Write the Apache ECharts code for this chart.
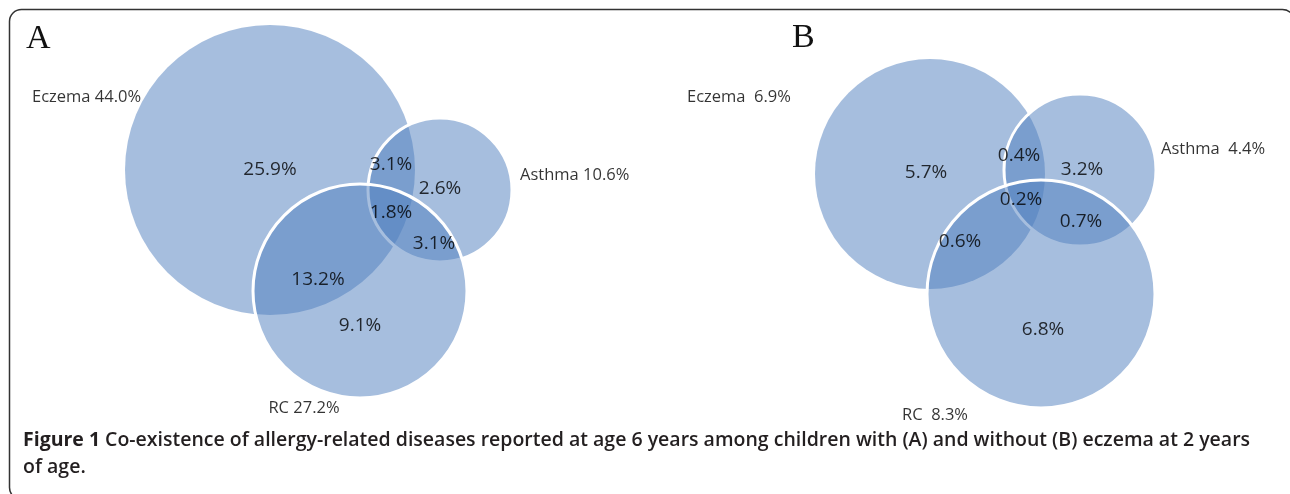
<!DOCTYPE html>
<html>
<head>
<meta charset="utf-8">
<style>
    html, body {margin:0;padding:0;background:#ffffff;}
    #venn {width:1290px;height:494px;}
</style>
</head>
<body>
<div id="venn"></div>
<script src="https://cdn.jsdelivr.net/npm/echarts@6/dist/echarts.min.js"></script>
<script>
    // sets and their totals (%) - A: eczema at 2 years, B: no eczema at 2 years
    var sets = ['Eczema', 'Asthma', 'RC'];
    var totalsA = [44.0, 10.6, 27.2];
    var totalsB = [6.9, 4.4, 8.3];
    // region shares (%): E only, E+A, A only, E+A+RC, A+RC, E+RC, RC only
    var regionsA = [25.9, 3.1, 2.6, 1.8, 3.1, 13.2, 9.1];
    var regionsB = [5.7, 0.4, 3.2, 0.2, 0.7, 0.6, 6.8];

    // layout, in plot units (the axes span the whole page)
    var circlesA = [[270, 170, 145], [440, 190, 72], [360, 291, 107]];
    var circlesB = [[930, 174, 115], [1080, 170, 76], [1041, 294, 114]];
    var regionPosA = [[270, 170], [391, 165], [440, 189], [391, 213], [434, 244], [318, 280], [360, 326]];
    var regionPosB = [[926, 173], [1019, 156], [1082, 170], [1021, 200], [1081, 222], [960, 242], [1043, 330]];
    var setPosA = [[32, 97, 'right'], [520, 175, 'right'], [304, 408, 'inside']];
    var setPosB = [[687, 97, 'right'], [1161, 149, 'right'], [935, 415, 'inside']];

    var captionBold = 'Figure 1';
    var captionText = 'Co-existence of allergy-related diseases reported at age 6 years among children with (A) and without (B) eczema at 2 years';
    var captionText2 = 'of age.';

    var textColor = '#000000';
    var fontName = 'Open Sans';

    function circleSeries(name, circles) {
        return {
            type: 'custom',
            name: name,
            silent: true,
            z: 1,
            data: circles.map(function (c, i) { return [c[0], c[1], c[2], i]; }),
            renderItem: function (params, api) {
                var p = api.coord([api.value(0), api.value(1)]);
                var r = api.size([api.value(2), 0])[0];
                var outline = api.value(3) > 0;
                return {
                    type: 'circle',
                    shape: {cx: p[0], cy: p[1], r: r},
                    style: {
                        fill: 'rgba(77,125,189,0.5)',
                        stroke: outline ? '#ffffff' : null,
                        lineWidth: outline ? 3 : 0
                    }
                };
            }
        };
    }

    function labelSeries(points, texts, size) {
        return {
            type: 'scatter',
            silent: true,
            z: 5,
            symbolSize: 0,
            data: points.map(function (p, i) {
                return {
                    value: [p[0], p[1]],
                    label: {formatter: texts[i], position: p[2] || 'inside'}
                };
            }),
            label: {show: true, distance: 0, color: textColor, fontFamily: fontName, fontSize: size}
        };
    }

    function pct(v) { return v.toFixed(1) + '%'; }

    var setTextA = sets.map(function (s, i) { return s + ' ' + pct(totalsA[i]); });
    var setTextB = sets.map(function (s, i) { return s + '  ' + pct(totalsB[i]); });

    var chart = echarts.init(document.getElementById('venn'));
    var option = {
        animation: false,
        backgroundColor: '#ffffff',
        title: [
            {text: 'A', left: 26, top: 22, padding: 0,
                textStyle: {fontFamily: 'Liberation Serif', fontWeight: 'normal', fontSize: 34, lineHeight: 34, color: '#111'}},
            {text: 'B', left: 792, top: 21, padding: 0,
                textStyle: {fontFamily: 'Liberation Serif', fontWeight: 'normal', fontSize: 34, lineHeight: 34, color: '#111'}},
            {
                text: '{b|' + captionBold + '} {r|' + captionText + '}\n{r|' + captionText2 + '}',
                left: 23, top: 427, padding: 0,
                textStyle: {
                    rich: {
                        b: {fontFamily: fontName, fontWeight: 'bold', fontSize: 19.5, lineHeight: 27, color: '#231f20'},
                        r: {fontFamily: fontName, fontWeight: 600, fontSize: 19.5, lineHeight: 27, color: '#231f20'}
                    }
                }
            }
        ],
        grid: {left: 0, right: 0, top: 0, bottom: 0},
        xAxis: {type: 'value', min: 0, max: 1290, show: false},
        yAxis: {type: 'value', min: 0, max: 494, inverse: true, show: false},
        graphic: [{
            type: 'rect',
            shape: {x: 9.5, y: 9.5, width: 1285, height: 490, r: 12},
            style: {fill: null, stroke: '#333333', lineWidth: 1.5},
            silent: true
        }],
        series: [
            circleSeries('Panel A', circlesA),
            circleSeries('Panel B', circlesB),
            labelSeries(regionPosA, regionsA.map(pct), 19),
            labelSeries(regionPosB, regionsB.map(pct), 19),
            labelSeries(setPosA, setTextA, 16.5),
            labelSeries(setPosB, setTextB, 16.5)
        ]
    };
    chart.setOption(option);
</script>
</body>
</html>
